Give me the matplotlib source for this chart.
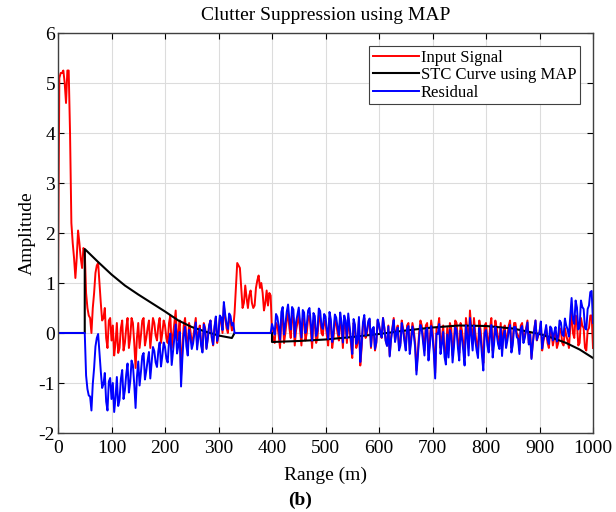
import numpy as np
import matplotlib
matplotlib.use("Agg")
import matplotlib.pyplot as plt

plt.rcParams['font.family'] = ['Liberation Serif', 'DejaVu Serif']
plt.rcParams['axes.unicode_minus'] = False

# range samples (m): main every 5 m, mid-points in between
rng = np.arange(0, 1001, 5)
rng_mid = np.arange(2.5, 1000, 5)

# input signal (red) at 0, 5, 10 ...
inp = [0.9, 5.2, 5.25, 4.6, 5.25, 2.2, 1.5, 1.5, 1.8, 1.3,
       1.65, 0.5, 0.3, 0.5, 1.2, 1.4, 0.6, 0.3, -0.1, 0.25,
       -0.15, -0.45, 0.2, -0.3, 0.25, -0.2, 0.3, -0.1, 0.2, -0.7,
       0.2, -0.05, 0.3, -0.1, 0.25, 0.0, 0.2, -0.15, 0.3, 0.0,
       0.15, -0.2, 0.35, -0.05, 0.45, 0.0, -0.85, 0.15, -0.1, 0.2,
       -0.2, 0.1, -0.25, 0.15, -0.35, 0.1, -0.1, 0.25, -0.25, 0.3,
       -0.05, 0.25, 0.55, 0.1, 0.3, 0.05, 0.4, 1.4, 1.3, 0.5,
       0.95, 0.5, 0.85, 0.5, 0.9, 1.15, 1.0, 0.45, 0.85, 0.8,
       0.0, -0.2, 0.15, -0.3, 0.35, 0.0, 0.4, -0.1, 0.3, 0.05,
       0.35, -0.25, 0.25, 0.0, 0.35, -0.3, 0.2, -0.1, 0.3, -0.05,
       0.2, -0.25, 0.15, -0.1, 0.2, -0.15, 0.1, 0.25, -0.2, 0.05,
       -0.5, 0.1, -0.2, -0.65, 0.15, -0.1, 0.2, -0.3, 0.1, -0.2,
       0.15, -0.1, 0.1, -0.25, -0.45, 0.1, -0.15, 0.15, -0.2, 0.1,
       -0.3, 0.2, -0.1, 0.05, -0.75, 0.0, 0.15, -0.35, 0.2, -0.15,
       0.05, -0.8, 0.1, -0.3, 0.15, -0.5, -0.35, 0.1, -0.15, 0.2,
       -0.4, 0.05, -0.5, 0.1, 0.45, -0.2, 0.0, -0.35, 0.05, -0.6,
       0.2, -0.25, 0.3, -0.1, 0.1, -0.2, -0.35, 0.15, -0.05, 0.25,
       -0.15, 0.2, -0.05, 0.15, -0.15, 0.1, -0.2, -0.5, 0.05, -0.15,
       0.0, -0.35, -0.05, -0.2, 0.05, -0.25, 0.0, -0.2, 0.05, -0.25,
       -0.05, -0.3, 0.45, -0.1, 0.2, -0.2, 0.15, -0.3, 0.05, 0.35,
       -0.3]

# input signal at 2.5, 7.5, 12.5 ...
inp_mid = [5.1, 5.2, 5.0, 5.25, 4.0, 1.8, 1.1, 2.05, 1.5, 1.7,
           0.8, 0.35, 0.0, 0.8, 1.35, 1.0, 0.25, 0.5, -0.3, 0.3,
           0.15, -0.2, -0.4, 0.1, -0.35, 0.1, -0.3, 0.3, -0.2, -0.1,
           -0.3, 0.25, -0.25, 0.1, -0.3, 0.3, -0.05, 0.15, -0.2, 0.25,
           -0.1, 0.2, -0.3, 0.2, -0.15, 0.25, -0.3, 0.3, -0.3, 0.05,
           -0.1, 0.3, 0.0, -0.2, 0.2, -0.3, 0.15, -0.1, 0.1, -0.2,
           0.3, 0.0, 0.3, 0.0, 0.25, 0.1, 0.9, 1.35, 0.9, 0.6,
           0.7, 0.75, 0.6, 0.55, 1.05, 0.9, 0.8, 0.6, 0.55, 0.75,
           -0.1, 0.2, -0.05, 0.25, -0.2, 0.25, 0.1, 0.35, -0.25, 0.2,
           0.05, 0.3, -0.15, 0.3, 0.05, 0.25, -0.2, 0.35, 0.0, 0.25,
           -0.05, 0.3, -0.3, 0.25, 0.0, 0.3, -0.3, 0.15, 0.3, -0.2,
           0.2, -0.3, 0.25, -0.3, 0.3, 0.0, 0.25, 0.05, -0.35, 0.25,
           0.0, 0.3, -0.15, 0.15, -0.1, 0.3, 0.05, -0.3, 0.25, -0.1,
           0.15, -0.35, 0.2, -0.2, -0.4, 0.25, -0.1, 0.15, -0.45, 0.25,
           -0.3, 0.1, 0.3, -0.1, -0.35, 0.1, 0.2, -0.45, 0.25, -0.15,
           0.2, -0.2, 0.3, -0.3, 0.1, 0.3, -0.2, 0.25, -0.3, 0.15,
           -0.1, 0.1, -0.35, 0.25, -0.1, 0.2, 0.05, -0.2, 0.15, -0.3,
           0.2, 0.0, -0.35, 0.2, -0.05, 0.25, 0.0, -0.2, 0.25, -0.05,
           0.2, -0.15, 0.1, -0.3, 0.0, -0.1, -0.3, 0.1, -0.2, 0.1,
           -0.15, 0.1, 0.0, 0.35, -0.25, 0.3, 0.1, -0.35, 0.1, 0.35]

# residual after STC (blue) at 0, 5, 10 ...
res = [0, 0, 0, 0, 0, 0, 0, 0, 0, 0,
       0, -1.12, -1.27, -1.02, -0.27, -0.02, -0.77, -1.02, -1.37, -0.97,
       -1.32, -1.58, -0.88, -1.34, -0.74, -1.15, -0.61, -0.97, -0.64, -1.5,
       -0.57, -0.78, -0.4, -0.76, -0.38, -0.6, -0.36, -0.68, -0.19, -0.46,
       -0.28, -0.59, -0.01, -0.37, 0.17, -0.25, -1.07, -0.04, -0.27, 0.06,
       -0.32, 0.0, -0.33, 0.09, -0.39, 0.07, -0.11, 0.25, -0.23, 0.33,
       0.0, 0.31, 0.62, 0.18, 0.39, 0.15, 0, 0, 0, 0,
       0, 0, 0, 0, 0, 0, 0, 0, 0, 0,
       0.18, -0.03, 0.32, -0.13, 0.52, 0.17, 0.57, 0.07, 0.47, 0.22,
       0.51, -0.09, 0.41, 0.16, 0.5, -0.15, 0.34, 0.04, 0.44, 0.08,
       0.33, -0.12, 0.27, 0.02, 0.31, -0.04, 0.21, 0.35, -0.1, 0.14,
       -0.42, 0.17, -0.13, -0.58, 0.21, -0.05, 0.24, -0.27, 0.12, -0.18,
       0.17, -0.09, 0.1, -0.26, -0.47, 0.08, -0.18, 0.11, -0.25, 0.05,
       -0.35, 0.14, -0.17, -0.03, -0.83, -0.09, 0.06, -0.45, 0.1, -0.26,
       -0.06, -0.91, -0.02, -0.42, 0.02, -0.63, -0.49, -0.04, -0.29, 0.05,
       -0.55, -0.1, -0.65, -0.05, 0.3, -0.35, -0.15, -0.5, -0.1, -0.75,
       0.06, -0.39, 0.16, -0.23, -0.03, -0.32, -0.46, 0.05, -0.15, 0.16,
       -0.24, 0.12, -0.12, 0.09, -0.2, 0.06, -0.23, -0.52, 0.05, -0.14,
       0.02, -0.31, 0.0, -0.13, 0.13, -0.15, 0.12, -0.06, 0.21, -0.06,
       0.15, -0.07, 0.7, 0.18, 0.51, 0.13, 0.52, 0.1, 0.48, 0.82,
       0.2]

# residual at 2.5, 7.5, 12.5 ...
res_mid = [0, 0, 0, 0, 0, 0, 0, 0, 0, 0,
           -0.85, -1.25, -1.55, -0.7, -0.1, -0.4, -1.1, -0.8, -1.55, -0.9,
           -1.0, -1.3, -1.46, -0.92, -1.32, -0.83, -1.19, -0.55, -1.02, -0.88,
           -1.05, -0.46, -0.93, -0.55, -0.91, -0.28, -0.59, -0.36, -0.67, -0.19,
           -0.51, -0.17, -0.64, -0.1, -0.41, 0.02, -0.5, 0.12, -0.45, -0.08,
           -0.21, 0.21, -0.07, -0.25, 0.17, -0.32, 0.15, -0.09, 0.12, -0.16,
           0.35, 0.06, 0.37, 0.08, 0.34, 0.2, 0, 0, 0, 0,
           0, 0, 0, 0, 0, 0, 0, 0, 0, 0,
           0.08, 0.38, 0.13, 0.42, -0.03, 0.42, 0.27, 0.52, -0.08, 0.36,
           0.21, 0.46, 0.0, 0.45, 0.2, 0.4, -0.06, 0.49, 0.14, 0.38,
           0.08, 0.42, -0.18, 0.37, 0.11, 0.41, -0.19, 0.25, 0.39, -0.11,
           0.28, -0.22, 0.32, -0.23, 0.36, 0.05, 0.29, 0.08, -0.32, 0.27,
           0.01, 0.3, -0.16, 0.13, -0.13, 0.26, 0.0, -0.35, 0.2, -0.16,
           0.09, -0.42, 0.13, -0.28, -0.48, 0.16, -0.2, 0.05, -0.55, 0.14,
           -0.41, -0.01, 0.18, -0.22, -0.48, -0.03, 0.06, -0.59, 0.11, -0.3,
           0.05, -0.35, 0.15, -0.45, -0.05, 0.15, -0.35, 0.1, -0.45, 0.0,
           -0.24, -0.04, -0.49, 0.12, -0.22, 0.09, -0.06, -0.3, 0.05, -0.39,
           0.12, -0.08, -0.42, 0.14, -0.1, 0.21, -0.03, -0.21, 0.25, -0.04,
           0.23, -0.1, 0.16, -0.22, 0.09, 0.01, -0.17, 0.25, -0.03, 0.29,
           0.07, 0.34, 0.27, 0.65, 0.07, 0.65, 0.48, 0.07, 0.55, 0.84]

# STC curve (black)
stc_x = [0, 50, 50, 75, 100, 125, 150, 175, 200, 225, 250, 275, 300, 325, 330,
         400, 400, 450, 500, 550, 600, 650, 700, 750, 800, 850, 900, 925, 950, 975, 1000]
stc_y = [0, 0, 1.68, 1.42, 1.17, 0.95, 0.77, 0.60, 0.43, 0.25, 0.12, 0.03, -0.05, -0.10, 0,
         0, -0.18, -0.16, -0.13, -0.08, -0.02, 0.05, 0.11, 0.15, 0.14, 0.09, -0.02, -0.10, -0.20, -0.33, -0.50]

# merge main samples and mid-points in range order
x_all = np.empty(len(rng) + len(rng_mid))
x_all[0::2] = rng
x_all[1::2] = rng_mid
inp_all = np.empty_like(x_all)
inp_all[0::2] = inp
inp_all[1::2] = inp_mid
res_all = np.empty_like(x_all)
res_all[0::2] = res
res_all[1::2] = res_mid

fig = plt.figure(figsize=(6.16, 5.12), dpi=100)
ax = fig.add_axes([58/616, 1-433/512, 535/616, 400/512])

ax.plot(x_all, inp_all, color='#ff0000', lw=1.4, label='Input Signal')
ax.plot(stc_x, stc_y, color='black', lw=1.5, label='STC Curve using MAP')
ax.plot(x_all, res_all, color='#0000ff', lw=1.4, label='Residual')

ax.set_xlim(0, 1000)
ax.set_ylim(-2, 6)
ax.set_xticks(np.arange(0, 1001, 100))
ax.set_yticks(np.arange(-2, 7, 1))
ax.grid(True, color='#dcdcdc', lw=0.8)
ax.set_axisbelow(True)
ax.tick_params(direction='in', top=True, right=True, labelsize=14, length=4, pad=2)
ax.tick_params(axis='x', pad=5)
for s in ax.spines.values():
    s.set_color('#404040')
    s.set_linewidth(1.0)

ax.set_title('Clutter Suppression using MAP', fontsize=14, pad=9)
ax.set_xlabel('Range (m)', fontsize=14, labelpad=7)
ax.set_ylabel('Amplitude', fontsize=14, labelpad=2)

leg = ax.legend(loc='upper right', fontsize=12, fancybox=False, edgecolor='#404040',
                handlelength=2.8, handletextpad=0.1, borderpad=0.2, labelspacing=0.1,
                borderaxespad=0.8, framealpha=1)
leg.get_frame().set_linewidth(0.8)

fig.text(300/616, 1-500/512, '(b)', fontsize=14, fontweight='bold', ha='center', va='center')

fig.savefig('out.png', dpi=100)
